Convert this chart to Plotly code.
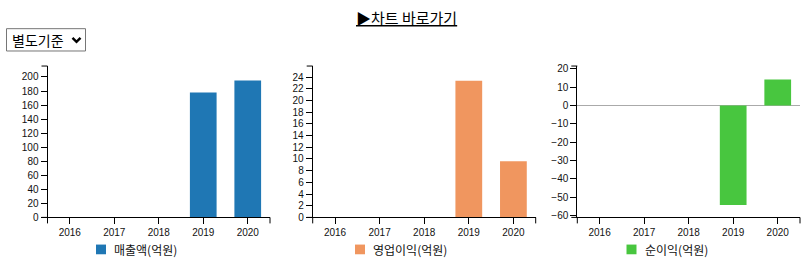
import plotly.graph_objects as go

years = ["2016", "2017", "2018", "2019", "2020"]
sales = [None, None, None, 178, 195]
op_profit = [None, None, None, 23.4, 9.6]
net_profit = [None, None, None, -54.2, 14.2]
names = ["매출액(억원)", "영업이익(억원)", "순이익(억원)"]
colors = ["#1f77b4", "#f0965f", "#48c63f"]

W, H = 810, 269
TICKFONT = dict(family="Liberation Sans, Arial, sans-serif", size=10, color="#111")
KFONT = "Noto Sans CJK KR, sans-serif"

fig = go.Figure()
series = [sales, op_profit, net_profit]
for i, vals in enumerate(series):
    s = "" if i == 0 else str(i + 1)
    fig.add_trace(go.Bar(x=years, y=vals, name=names[i], marker=dict(color=colors[i], line=dict(width=0)),
                         xaxis="x" + s, yaxis="y" + s, showlegend=False, hoverinfo="x+y"))

xdoms = [[47.5 / W, 270 / W], [312.7 / W, 535.7 / W], [577.3 / W, 800 / W]]
ydom = [47 / H, 203 / H]
yranges = [[0, 215.6], [0, 25.9], [-61.0, 21.6]]
dticks = [20, 2, 10]

layout = dict(width=W, height=H, margin=dict(l=0, r=0, t=0, b=0), plot_bgcolor="white",
              paper_bgcolor="white", bargap=0.4, shapes=[], annotations=[])
for i in range(3):
    s = "" if i == 0 else str(i + 1)
    layout["xaxis" + s] = dict(domain=xdoms[i], anchor="y" + s, type="category", range=[-0.5, 4.5],
                               showline=True, linecolor="black", linewidth=1, ticks="outside", ticklen=6,
                               tickcolor="black", tickfont=TICKFONT, showgrid=False, zeroline=False,
                               fixedrange=True)
    layout["yaxis" + s] = dict(domain=ydom, anchor="x" + s, range=yranges[i], dtick=dticks[i], tick0=0,
                               showline=True, linecolor="black", linewidth=1, ticks="outside", ticklen=6,
                               tickcolor="black", tickfont=TICKFONT, showgrid=False,
                               zeroline=(i == 2), zerolinecolor="#aaaaaa", zerolinewidth=1,
                               fixedrange=True)
    xr, yr = "x" + s + " domain", "y" + s + " domain"
    # d3-style outer ticks
    layout["shapes"] += [
        dict(type="line", xref=xr, yref=yr, xsizemode="pixel", xanchor=0, x0=-6, x1=0, y0=1, y1=1,
             line=dict(color="black", width=1)),
        dict(type="line", xref=xr, yref=yr, xsizemode="pixel", xanchor=0, x0=-6, x1=0, y0=0, y1=0,
             line=dict(color="black", width=1)),
        dict(type="line", xref=xr, yref=yr, ysizemode="pixel", yanchor=0, x0=0, x1=0, y0=0, y1=-6,
             line=dict(color="black", width=1)),
        dict(type="line", xref=xr, yref=yr, ysizemode="pixel", yanchor=0, x0=1, x1=1, y0=0, y1=-6,
             line=dict(color="black", width=1)),
    ]

# legends (per chart)
leg_sq_x = [96, 355, 626.5]
for i in range(3):
    x0 = leg_sq_x[i]
    layout["shapes"].append(dict(type="rect", xref="paper", yref="paper", x0=x0 / W, x1=(x0 + 10) / W,
                                 y0=(H - 260) / H, y1=(H - 250) / H, fillcolor=colors[i], line=dict(width=0)))
    layout["annotations"].append(dict(xref="paper", yref="paper", x=(x0 + 16) / W, y=(H - 255) / H,
                                      xanchor="left", yanchor="middle", showarrow=False, text=names[i],
                                      font=dict(family=KFONT, size=12, color="#111")))

# title link
layout["annotations"].append(dict(xref="paper", yref="paper", x=406 / W, y=(H - 16) / H, xanchor="center",
                                  yanchor="middle", showarrow=False, text="<u>▶차트 바로가기</u>",
                                  font=dict(family=KFONT, size=15, color="black")))
# dropdown
layout["shapes"].append(dict(type="rect", xref="paper", yref="paper", x0=6.5 / W, x1=85.5 / W,
                             y0=(H - 50.5) / H, y1=(H - 27.5) / H, fillcolor="white",
                             line=dict(color="#767676", width=1)))
layout["annotations"].append(dict(xref="paper", yref="paper", x=10 / W, y=(H - 39) / H, xanchor="left",
                                  yanchor="middle", showarrow=False, text="별도기준",
                                  font=dict(family=KFONT, size=14, color="black")))
layout["shapes"].append(dict(type="path", xref="paper", yref="paper",
                             path="M {:.5f},{:.5f} L {:.5f},{:.5f} L {:.5f},{:.5f}".format(
                                 72.5 / W, (H - 37) / H, 76.5 / W, (H - 41) / H, 80.5 / W, (H - 37) / H),
                             line=dict(color="black", width=2.5)))

fig.update_layout(**layout)
fig.write_html("out.html", config={"displayModeBar": False})

# make sure the page itself adds no margin
with open("out.html", "r", encoding="utf-8") as f:
    html = f.read()
html = html.replace("<head>", "<head><style>html,body{margin:0;padding:0;overflow:hidden;}</style>", 1)
with open("out.html", "w", encoding="utf-8") as f:
    f.write(html)
